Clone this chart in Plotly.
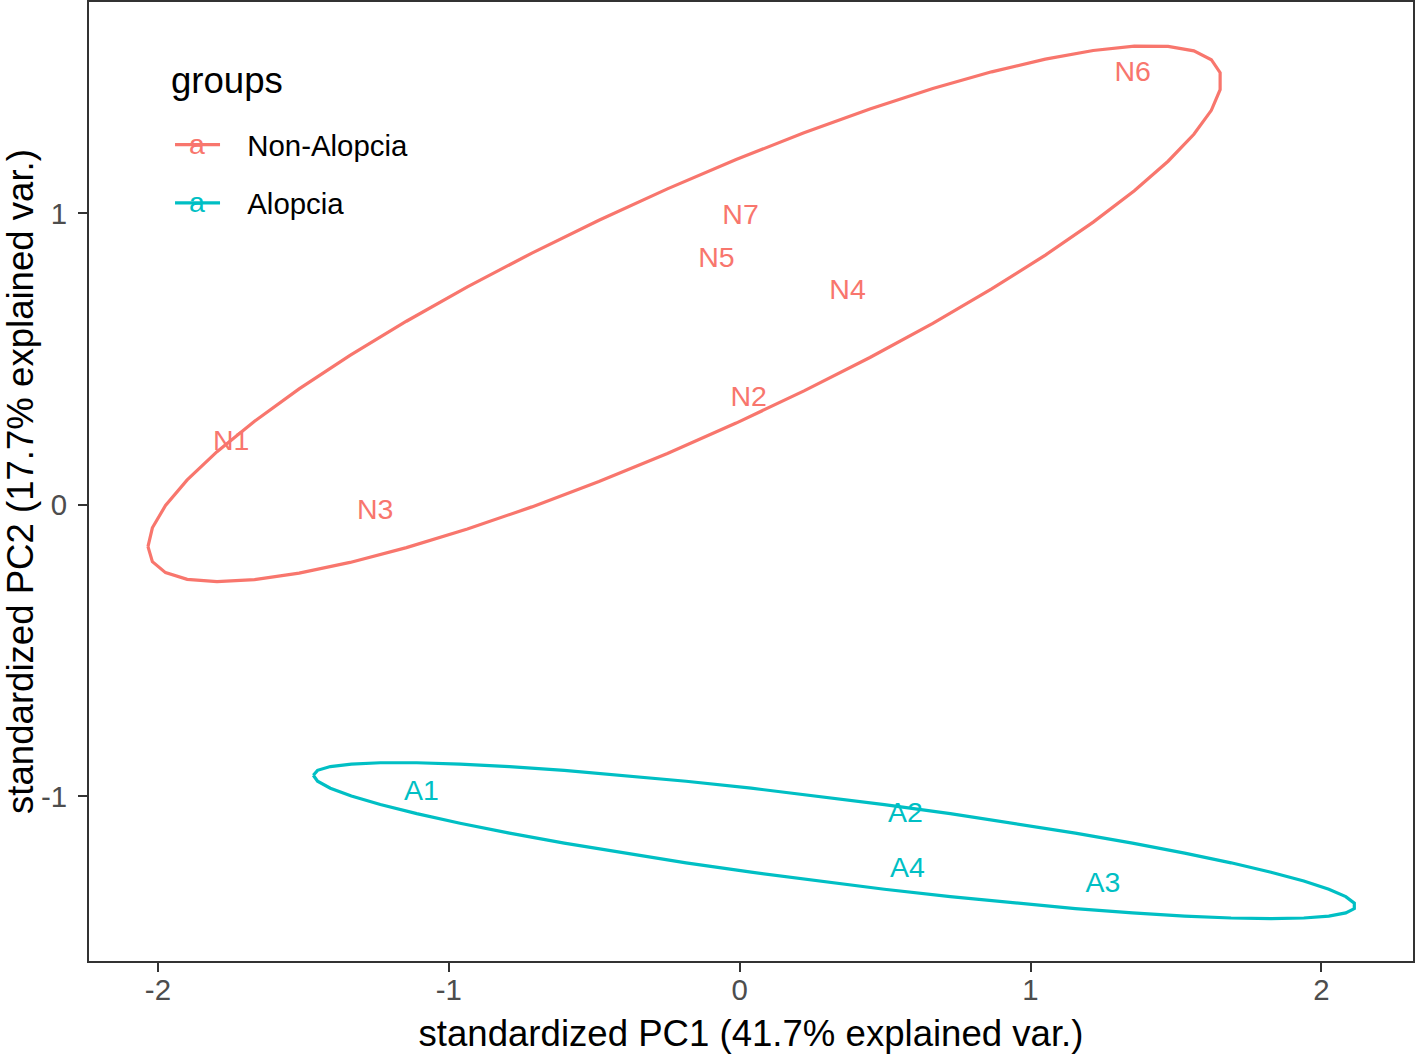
import numpy as np
import plotly.graph_objects as go

# ---- data ----
groups = ["Non-Alopcia", "Alopcia"]
colors = {"Non-Alopcia": "#F8766D", "Alopcia": "#00BFC4"}

non_labels = ["N1", "N2", "N3", "N4", "N5", "N6", "N7"]
non_pc1 = [-1.748, 0.031, -1.253, 0.371, -0.080, 1.351, 0.003]
non_pc2 = [0.211, 0.365, -0.025, 0.730, 0.842, 1.480, 0.987]

alo_labels = ["A1", "A2", "A3", "A4"]
alo_pc1 = [-1.094, 0.570, 1.249, 0.577]
alo_pc2 = [-0.989, -1.065, -1.303, -1.251]

x_ticks = [-2, -1, 0, 1, 2]
y_ticks = [-1, 0, 1]
ellipse_prob = 0.8

FONT = "Liberation Sans, Arial, sans-serif"
NB = "\u00a0\u00a0\u2009"


def ellipse(x, y, prob):
    x = np.asarray(x, float)
    y = np.asarray(y, float)
    theta = np.concatenate([np.linspace(-np.pi, np.pi, 50), np.linspace(np.pi, -np.pi, 50)])
    circle = np.column_stack([np.cos(theta), np.sin(theta)])
    sigma = np.cov(np.vstack([x, y]))
    mu = np.array([x.mean(), y.mean()])
    ed = np.sqrt(-2.0 * np.log(1.0 - prob))
    L = np.linalg.cholesky(sigma)
    pts = circle @ L.T * ed + mu
    return pts[:, 0], pts[:, 1]


fig = go.Figure()
data = {
    "Non-Alopcia": (non_pc1, non_pc2, non_labels),
    "Alopcia": (alo_pc1, alo_pc2, alo_labels),
}
for i, g in enumerate(groups):
    xs, ys, labs = data[g]
    ex, ey = ellipse(xs, ys, ellipse_prob)
    fig.add_trace(go.Scatter(
        x=ex, y=ey, mode="lines",
        line=dict(color=colors[g], width=3.2),
        name=NB + g, legendgroup=g, showlegend=True, hoverinfo="skip",
    ))
    fig.add_trace(go.Scatter(
        x=xs, y=ys, mode="text", text=labs,
        textposition="middle center",
        textfont=dict(color=colors[g], size=28.5, family=FONT),
        name=g, legendgroup=g, showlegend=False,
    ))

axis_common = dict(
    showgrid=False, zeroline=False, automargin=False,
    showline=True, mirror=True, linecolor="#333333", linewidth=2,
    ticks="outside", ticklen=9, tickwidth=2, tickcolor="#333333",
    tickfont=dict(family=FONT, size=29.4, color="#4D4D4D"),
)

# legend title and key glyphs (ggplot-style)
annotations = [
    dict(text="groups", x=0.0605, y=0.9186, xref="paper", yref="paper",
         xanchor="left", yanchor="middle", showarrow=False,
         font=dict(family=FONT, size=36.6, color="black")),
    dict(text="a", x=0.0815, y=1 - (144 - 2) / 958, xref="paper", yref="paper",
         xanchor="center", yanchor="middle", showarrow=False,
         font=dict(family=FONT, size=28.5, color=colors["Non-Alopcia"])),
    dict(text="a", x=0.0815, y=1 - (202 - 2) / 958, xref="paper", yref="paper",
         xanchor="center", yanchor="middle", showarrow=False,
         font=dict(family=FONT, size=28.5, color=colors["Alopcia"])),
]

fig.update_layout(
    width=1416, height=1054,
    margin=dict(l=89, r=3, t=2, b=93),
    paper_bgcolor="white", plot_bgcolor="white",
    font=dict(family=FONT, color="black"),
    annotations=annotations,
    xaxis=dict(
        range=[-2.237, 2.315], tickvals=x_ticks, ticktext=[str(v) for v in x_ticks],
        ticklabelstandoff=-7,
        title=dict(text="standardized PC1 (41.7% explained var.)",
                   font=dict(family=FONT, size=36.6, color="black"), standoff=16),
        **axis_common,
    ),
    yaxis=dict(
        range=[-1.565, 1.725], tickvals=y_ticks, ticktext=[str(v) for v in y_ticks],
        ticklabelstandoff=5,
        title=dict(text="standardized PC2 (17.7% explained var.)",
                   font=dict(family=FONT, size=36.6, color="black"), standoff=7),
        **axis_common,
    ),
    legend=dict(
        x=0.0612, y=0.878, xanchor="left", yanchor="top",
        bgcolor="rgba(0,0,0,0)",
        font=dict(family=FONT, size=29.4, color="black"),
        traceorder="grouped", tracegroupgap=17, itemwidth=45,
    ),
)

fig.write_html(
    "out.html",
    config={"displayModeBar": False},
    post_script="document.body.style.margin='0';document.body.style.overflow='hidden';",
)
